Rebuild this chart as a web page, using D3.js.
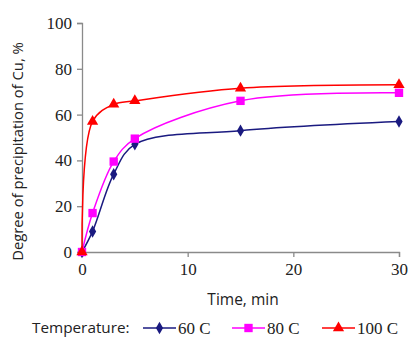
<!DOCTYPE html>
<html>
<head>
<meta charset="utf-8">
<script src="https://cdn.jsdelivr.net/npm/d3@7"></script>
<style>
  body { margin: 0; background: #fff; }
  .tick text { font-family: "Liberation Serif", "Times New Roman", serif; font-size: 17px; fill: #222; }
</style>
</head>
<body>
<svg id="chart"></svg>
<script>
// data
var times = [0, 1, 3, 5, 15, 30];
var t60 = [0, 9, 34, 47, 53, 57];
var t80 = [0, 17, 39.5, 49.5, 66, 69.5];
var t100 = [0, 57, 64.5, 66, 71.5, 73];
var seriesNames = ["60 C", "80 C", "100 C"];
var xTicks = [0, 10, 20, 30];
var yTicks = [0, 20, 40, 60, 80, 100];

var W = 414, H = 344;
var margin = {top: 23, right: 15, bottom: 92, left: 82},
    width = 399 - margin.left,
    height = 252 - margin.top;

var svg = d3.select("#chart")
    .attr("width", W)
    .attr("height", H)
  .append("g")
    .attr("transform", "translate(" + margin.left + "," + margin.top + ")");

var x = d3.scaleLinear().domain([0, 30]).range([0, width]);
var y = d3.scaleLinear().domain([0, 100]).range([height, 0]);

var xAxis = d3.axisBottom(x).tickValues(xTicks).tickSize(5).tickPadding(6);
var yAxis = d3.axisLeft(y).tickValues(yTicks).tickSize(5).tickPadding(5);

var gx = svg.append("g")
    .attr("transform", "translate(0," + height + ")")
    .call(xAxis);
var gy = svg.append("g").call(yAxis);

[gx, gy].forEach(function(g) {
  g.select(".domain").attr("stroke", "#8a8a8a").attr("stroke-width", 1.3);
  g.selectAll(".tick line").attr("stroke", "#8a8a8a").attr("stroke-width", 1.3);
});

// axis titles
svg.append("text")
    .attr("transform", "translate(" + (18 - margin.left) + "," + (height / 2 + 14) + ") rotate(-90)")
    .attr("text-anchor", "middle")
    .attr("dy", ".35em")
    .style("font-family", "'Open Sans', 'DejaVu Sans', sans-serif")
    .style("font-size", "14.8px")
    .style("fill", "#222")
    .text("Degree of precipitation of Cu, %");

svg.append("text")
    .attr("x", 243 - margin.left)
    .attr("y", 300 - margin.top)
    .attr("text-anchor", "middle")
    .attr("dy", ".35em")
    .style("font-family", "'Open Sans', 'DejaVu Sans', sans-serif")
    .style("font-size", "15.5px")
    .style("fill", "#222")
    .text("Time, min");

var series = [
  {name: seriesNames[0], values: t60, color: "#1a1a80", symbol: d3.symbolDiamond, size: 45},
  {name: seriesNames[1], values: t80, color: "#ff00ff", symbol: d3.symbolSquare, size: 70},
  {name: seriesNames[2], values: t100, color: "#ff0000", symbol: d3.symbolTriangle, size: 55}
];

var line = d3.line()
    .x(function(d) { return x(d[0]); })
    .y(function(d) { return y(d[1]); })
    .curve(d3.curveCatmullRom.alpha(0.5));

series.forEach(function(s) {
  var pts = times.map(function(t, i) { return [t, s.values[i]]; });
  svg.append("path")
      .datum(pts)
      .attr("fill", "none")
      .attr("stroke", s.color)
      .attr("stroke-width", 1.5)
      .attr("d", line);
  svg.selectAll(null)
      .data(pts)
    .enter().append("path")
      .attr("transform", function(d) { return "translate(" + x(d[0]) + "," + y(d[1]) + ")"; })
      .attr("d", d3.symbol().type(s.symbol).size(s.size))
      .attr("fill", s.color);
});

// legend
var leg = d3.select("#chart").append("g").attr("transform", "translate(0,328)");
leg.append("text")
    .attr("x", 32)
    .attr("dy", ".35em")
    .style("font-family", "'Open Sans', 'DejaVu Sans', sans-serif")
    .style("font-size", "15.3px")
    .style("fill", "#222")
    .text("Temperature:");

var legX = [143, 232, 322];
series.forEach(function(s, i) {
  var g = leg.append("g").attr("transform", "translate(" + legX[i] + ",0)");
  g.append("line").attr("x1", 0).attr("x2", 33).attr("stroke", s.color).attr("stroke-width", 1.5);
  g.append("path")
      .attr("transform", "translate(16.5,0)")
      .attr("d", d3.symbol().type(s.symbol).size(s.size))
      .attr("fill", s.color);
  g.append("text")
      .attr("x", 35)
      .attr("dy", ".35em")
      .style("font-family", "'Liberation Serif', serif")
      .style("font-size", "17px")
      .style("fill", "#222")
      .text(s.name);
});
</script>
</body>
</html>
